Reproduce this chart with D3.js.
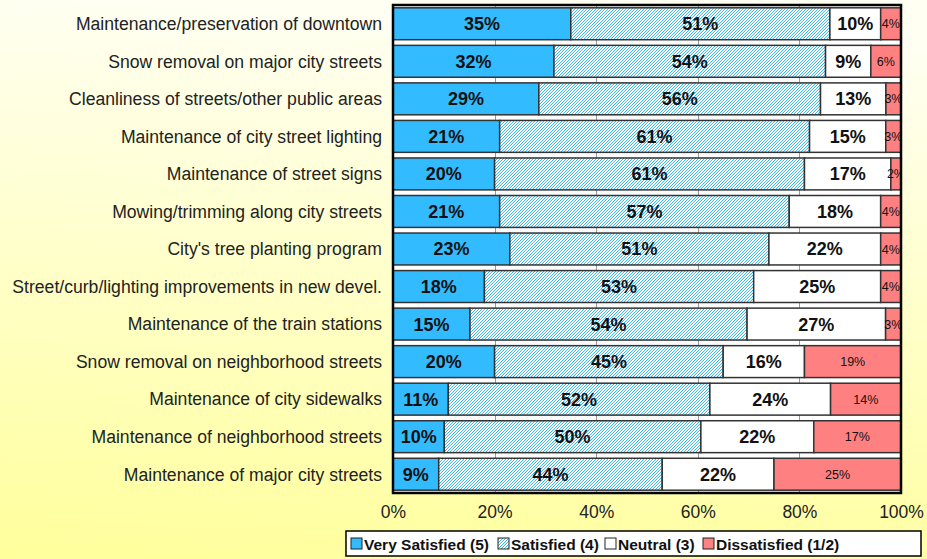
<!DOCTYPE html>
<html>
<head>
  <meta charset="utf-8">
  <title>Satisfaction with city services</title>
  <script src="https://d3js.org/d3.v7.min.js"></script>
  <style>
    body { margin: 0; }
    svg { display: block; font-family: Arial, "Liberation Sans", sans-serif; }
  </style>
</head>
<body>
  <svg width="927" height="559"></svg>
  <script>
// data
const categories = [
  "Maintenance/preservation of downtown",
  "Snow removal on major city streets",
  "Cleanliness of streets/other public areas",
  "Maintenance of city street lighting",
  "Maintenance of street signs",
  "Mowing/trimming along city streets",
  "City's tree planting program",
  "Street/curb/lighting improvements in new devel.",
  "Maintenance of the train stations",
  "Snow removal on neighborhood streets",
  "Maintenance of city sidewalks",
  "Maintenance of neighborhood streets",
  "Maintenance of major city streets"
];
const verySatisfied = [35, 32, 29, 21, 20, 21, 23, 18, 15, 20, 11, 10, 9];
const satisfied     = [51, 54, 56, 61, 61, 57, 51, 53, 54, 45, 52, 50, 44];
const neutral       = [10,  9, 13, 15, 17, 18, 22, 25, 27, 16, 24, 22, 22];
const dissatisfied  = [ 4,  6,  3,  3,  2,  4,  4,  4,  3, 19, 14, 17, 25];
const seriesNames = ["Very Satisfied (5)", "Satisfied (4)", "Neutral (3)", "Dissatisfied (1/2)"];
const xTicks = [0, 0.2, 0.4, 0.6, 0.8, 1];

const W = 927, H = 559;
const margin = { top: 5, right: 26, bottom: 66, left: 393 };
const pw = W - margin.left - margin.right;
const ph = H - margin.top - margin.bottom;

const svg = d3.select("svg");
const defs = svg.append("defs");

// page background
const grad = defs.append("linearGradient").attr("id", "bg")
  .attr("x1", 0.1).attr("y1", 0).attr("x2", 0).attr("y2", 1);
grad.append("stop").attr("offset", "0%").attr("stop-color", "#fffff2");
grad.append("stop").attr("offset", "100%").attr("stop-color", "#ffff9c");
svg.append("rect").attr("width", W).attr("height", H).attr("fill", "url(#bg)");

// pixel hatch for "Satisfied"
const pat = defs.append("pattern").attr("id", "hatch")
  .attr("patternUnits", "userSpaceOnUse").attr("width", 3).attr("height", 3);
pat.append("rect").attr("width", 3).attr("height", 3).attr("fill", "#ffffff");
pat.selectAll("rect.px").data([[2, 0], [1, 1], [0, 2]]).join("rect")
  .attr("class", "px")
  .attr("x", d => d[0]).attr("y", d => d[1])
  .attr("width", 1).attr("height", 1)
  .attr("fill", "#33bbff")
  .attr("shape-rendering", "crispEdges");

defs.append("clipPath").attr("id", "plotclip")
  .append("rect").attr("width", pw).attr("height", ph);

const fills = ["#33bbff", "url(#hatch)", "#ffffff", "#ff8080"];
const colour = d3.scaleOrdinal().domain(seriesNames).range(fills);

const rows = categories.map((c, i) => {
  const vals = [verySatisfied[i], satisfied[i], neutral[i], dissatisfied[i]];
  const total = d3.sum(vals);
  let acc = 0;
  return vals.map((v, k) => {
    const s = { cat: c, key: seriesNames[k], k, v, x0: acc / total, x1: (acc + v) / total };
    acc += v;
    return s;
  });
});
const segs = rows.flat();

const x = d3.scaleLinear().domain([0, 1]).range([0, pw]);
const y = d3.scaleBand().domain(categories).range([0, ph]).paddingInner(0.15).paddingOuter(0.075);

const g = svg.append("g").attr("transform", `translate(${margin.left},${margin.top})`);

// plot area + grid
g.append("rect").attr("width", pw).attr("height", ph).attr("fill", "#ffffff");
g.append("g").selectAll("line").data(xTicks.slice(1, -1)).join("line")
  .attr("x1", d => Math.round(x(d)) + 0.5).attr("x2", d => Math.round(x(d)) + 0.5)
  .attr("y1", 0).attr("y2", ph)
  .attr("stroke", "#999").attr("stroke-width", 1);

const bars = g.append("g").attr("clip-path", "url(#plotclip)");

bars.selectAll("rect").data(segs).join("rect")
  .attr("x", d => x(d.x0))
  .attr("y", d => y(d.cat))
  .attr("width", d => x(d.x1) - x(d.x0))
  .attr("height", y.bandwidth())
  .attr("fill", d => colour(d.key))
  .attr("stroke", "#333")
  .attr("stroke-width", 1.5);

bars.selectAll("text").data(segs).join("text")
  .attr("x", d => x((d.x0 + d.x1) / 2))
  .attr("y", d => y(d.cat) + y.bandwidth() / 2)
  .attr("dy", "0.36em")
  .attr("text-anchor", "middle")
  .attr("font-size", d => d.k === 3 ? 12.5 : 18)
  .attr("font-weight", d => d.k === 3 ? "normal" : "bold")
  .attr("fill", "#111")
  .text(d => d.v + "%");

// frame
g.append("rect").attr("width", pw).attr("height", ph)
  .attr("fill", "none").attr("stroke", "#000").attr("stroke-width", 2.5);

// category labels
g.append("g").selectAll("text").data(categories).join("text")
  .attr("x", -11)
  .attr("y", d => y(d) + y.bandwidth() / 2)
  .attr("dy", "0.36em")
  .attr("text-anchor", "end")
  .attr("font-size", 17.6)
  .attr("fill", "#222")
  .text(d => d);

// x axis
const xAxis = g.append("g").attr("transform", `translate(0,${ph})`)
  .call(d3.axisBottom(x).tickValues(xTicks).tickFormat(d3.format(".0%")).tickSize(0).tickPadding(13));
xAxis.select(".domain").remove();
xAxis.selectAll("text").attr("font-size", 17.5).attr("fill", "#222")
  .attr("font-family", "Arial, 'Liberation Sans', sans-serif");

// legend
const lg = svg.append("g").attr("transform", "translate(346,531)");
lg.append("rect").attr("width", 575).attr("height", 25)
  .attr("fill", "#fff").attr("stroke", "#000").attr("stroke-width", 1.5);
const items = lg.selectAll("g").data(seriesNames).join("g");
const itemX = [5, 152, 259, 357];
items.attr("transform", (d, i) => `translate(${itemX[i]},0)`);
items.append("rect").attr("x", 0).attr("y", 7).attr("width", 11).attr("height", 11)
  .attr("fill", d => colour(d)).attr("stroke", "#222").attr("stroke-width", 1);
items.append("text").attr("x", 13).attr("y", 18.5)
  .attr("font-size", 15.5).attr("font-weight", "bold").attr("fill", "#111")
  .text(d => d);
  </script>
</body>
</html>
